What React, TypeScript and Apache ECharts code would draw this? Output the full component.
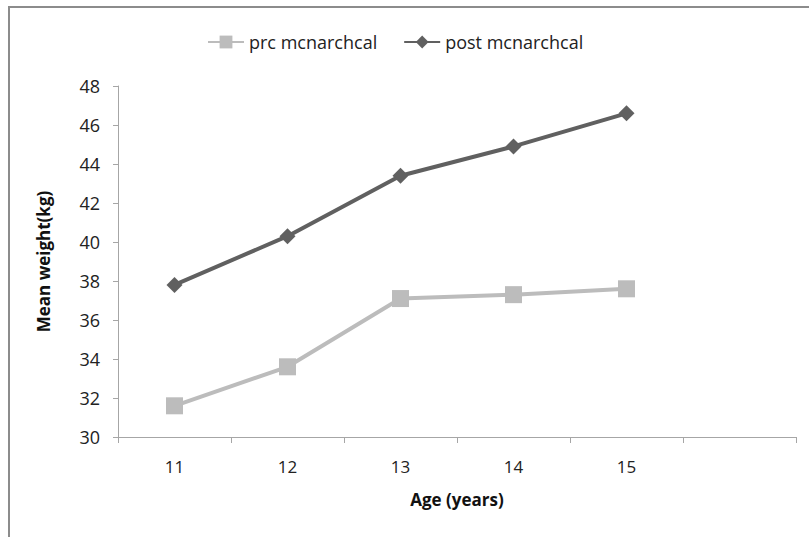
import React, { useEffect, useRef } from "react";
import * as echarts from "echarts";

const ages = ["11", "12", "13", "14", "15", ""];
const preMenarcheal = [31.6, 33.6, 37.1, 37.3, 37.6];
const postMenarcheal = [37.8, 40.3, 43.4, 44.9, 46.6];
const seriesNames = ["prc mcnarchcal", "post mcnarchcal"];

const FONT = "Open Sans";

export default function App() {
  const ref = useRef<HTMLDivElement>(null);

  useEffect(() => {
    if (!ref.current) return;
    const chart = echarts.init(ref.current, null, { renderer: "svg" });
    chart.setOption({
      animation: false,
      backgroundColor: "#ffffff",
      textStyle: { fontFamily: FONT },
      legend: {
        top: 28,
        left: 202,
        itemWidth: 36,
        itemHeight: 16,
        itemGap: 26,
        textStyle: { fontSize: 18, color: "#222", fontFamily: FONT },
        data: seriesNames,
      },
      grid: { left: 118, right: 13, top: 86, bottom: 100, containLabel: false },
      xAxis: {
        type: "category",
        data: ages,
        boundaryGap: true,
        name: "Age (years)",
        nameLocation: "middle",
        nameGap: 54,
        nameTextStyle: { fontSize: 17, fontWeight: "bold", color: "#111", fontFamily: FONT },
        axisLine: { lineStyle: { color: "#a6a6a6", width: 1 } },
        axisTick: { show: true, length: 6, alignWithLabel: false, lineStyle: { color: "#a6a6a6" } },
        axisLabel: { fontSize: 17, color: "#222", margin: 21, fontFamily: FONT },
        splitLine: { show: false },
      },
      yAxis: {
        type: "value",
        min: 30,
        max: 48,
        interval: 2,
        name: "Mean weight(kg)",
        nameLocation: "middle",
        nameGap: 66,
        nameRotate: 90,
        nameTextStyle: { fontSize: 17, fontWeight: "bold", color: "#111", fontFamily: FONT },
        axisLine: { show: true, lineStyle: { color: "#a6a6a6", width: 1 } },
        axisTick: { show: true, length: 5, lineStyle: { color: "#a6a6a6" } },
        axisLabel: { fontSize: 18, color: "#222", margin: 18, fontFamily: FONT },
        splitLine: { show: false },
      },
      series: [
        {
          name: seriesNames[0],
          type: "line",
          data: preMenarcheal,
          symbol: "rect",
          symbolSize: 17,
          itemStyle: { color: "#bcbcbc" },
          lineStyle: { color: "#bcbcbc", width: 4 },
        },
        {
          name: seriesNames[1],
          type: "line",
          data: postMenarcheal,
          symbol: "diamond",
          symbolSize: 16,
          itemStyle: { color: "#606060" },
          lineStyle: { color: "#606060", width: 4 },
        },
      ],
      graphic: [
        { type: "line", shape: { x1: 8, y1: 7, x2: 809, y2: 7 }, style: { stroke: "#8c8c8c", lineWidth: 2 } },
        { type: "line", shape: { x1: 9, y1: 6, x2: 9, y2: 537 }, style: { stroke: "#8c8c8c", lineWidth: 2 } },
      ],
    });
    return () => chart.dispose();
  }, []);

  return <div ref={ref} style={{ width: 809, height: 537, position: "absolute", left: 0, top: 0 }} />;
}
